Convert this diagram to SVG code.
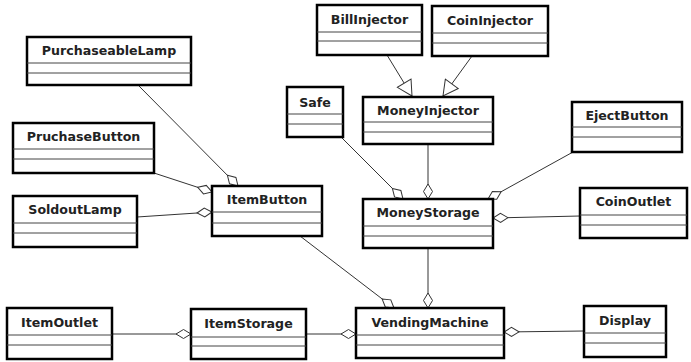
<svg xmlns="http://www.w3.org/2000/svg" width="691" height="362" viewBox="0 0 691 362">
<style>
.box{fill:#fff;stroke:#000;stroke-width:2.5}
.sep{stroke:#444;stroke-width:1}
.lbl{font-family:"DejaVu Sans",sans-serif;font-weight:bold;font-size:12.6px;fill:#222;text-anchor:middle}
.edge{stroke:#333;stroke-width:1;fill:none}
.agg{marker-end:url(#diamond)}
.gen{marker-end:url(#tri)}
</style>
<defs>
<marker id="diamond" markerUnits="userSpaceOnUse" viewBox="0 0 17 11" refX="16" refY="5.5" markerWidth="17" markerHeight="11" orient="auto">
<path d="M1,5.5 L8.5,1 L16,5.5 L8.5,10 Z" fill="#fff" stroke="#333" stroke-width="1"/>
</marker>
<marker id="tri" markerUnits="userSpaceOnUse" viewBox="0 0 17 18" refX="16" refY="9" markerWidth="17" markerHeight="18" orient="auto">
<path d="M1,1 L16,9 L1,17 Z" fill="#fff" stroke="#333" stroke-width="1"/>
</marker>
</defs>
<g id="connectors">
<line class="edge agg" x1="138" y1="85" x2="238" y2="186"/>
<line class="edge agg" x1="154" y1="173" x2="212" y2="192"/>
<line class="edge agg" x1="137" y1="217" x2="212" y2="212"/>
<line class="edge agg" x1="300" y1="236" x2="394" y2="308"/>
<line class="edge agg" x1="341" y1="137" x2="403" y2="199"/>
<line class="edge agg" x1="428" y1="144" x2="428" y2="199"/>
<line class="edge agg" x1="573" y1="152" x2="488" y2="199"/>
<line class="edge agg" x1="580" y1="216" x2="493" y2="218"/>
<line class="edge agg" x1="428" y1="248" x2="428" y2="308"/>
<line class="edge agg" x1="112" y1="334" x2="191" y2="334"/>
<line class="edge agg" x1="306" y1="334" x2="356" y2="334"/>
<line class="edge agg" x1="584" y1="331" x2="504" y2="332"/>
<line class="edge gen" x1="387" y1="55" x2="412" y2="96"/>
<line class="edge gen" x1="472" y1="56" x2="443" y2="96"/>
</g>
<g id="PurchaseableLamp">
<rect class="box" x="27" y="37" width="164" height="48"/>
<line class="sep" x1="27" y1="63" x2="191" y2="63"/><line class="sep" x1="27" y1="73" x2="191" y2="73"/>
<text class="lbl" x="109" y="55">PurchaseableLamp</text>
</g>
<g id="BillInjector">
<rect class="box" x="317" y="5" width="105" height="50"/>
<line class="sep" x1="317" y1="32" x2="422" y2="32"/><line class="sep" x1="317" y1="41" x2="422" y2="41"/>
<text class="lbl" x="369.5" y="24">BillInjector</text>
</g>
<g id="CoinInjector">
<rect class="box" x="432" y="6" width="116" height="50"/>
<line class="sep" x1="432" y1="33" x2="548" y2="33"/><line class="sep" x1="432" y1="43" x2="548" y2="43"/>
<text class="lbl" x="490" y="25">CoinInjector</text>
</g>
<g id="Safe">
<rect class="box" x="287" y="87" width="56" height="50"/>
<line class="sep" x1="287" y1="114" x2="343" y2="114"/><line class="sep" x1="287" y1="124" x2="343" y2="124"/>
<text class="lbl" x="315" y="107">Safe</text>
</g>
<g id="MoneyInjector">
<rect class="box" x="363" y="97" width="130" height="47"/>
<line class="sep" x1="363" y1="122" x2="493" y2="122"/><line class="sep" x1="363" y1="132" x2="493" y2="132"/>
<text class="lbl" x="428" y="115">MoneyInjector</text>
</g>
<g id="EjectButton">
<rect class="box" x="572" y="102" width="110" height="50"/>
<line class="sep" x1="572" y1="127" x2="682" y2="127"/><line class="sep" x1="572" y1="137" x2="682" y2="137"/>
<text class="lbl" x="627" y="120">EjectButton</text>
</g>
<g id="PruchaseButton">
<rect class="box" x="13" y="123" width="141" height="50"/>
<line class="sep" x1="13" y1="149" x2="154" y2="149"/><line class="sep" x1="13" y1="159" x2="154" y2="159"/>
<text class="lbl" x="83.5" y="141">PruchaseButton</text>
</g>
<g id="SoldoutLamp">
<rect class="box" x="13" y="196" width="124" height="51"/>
<line class="sep" x1="13" y1="223" x2="137" y2="223"/><line class="sep" x1="13" y1="233" x2="137" y2="233"/>
<text class="lbl" x="75" y="214">SoldoutLamp</text>
</g>
<g id="ItemButton">
<rect class="box" x="212" y="186" width="110" height="50"/>
<line class="sep" x1="212" y1="212" x2="322" y2="212"/><line class="sep" x1="212" y1="223" x2="322" y2="223"/>
<text class="lbl" x="267" y="204">ItemButton</text>
</g>
<g id="MoneyStorage">
<rect class="box" x="363" y="199" width="130" height="49"/>
<line class="sep" x1="363" y1="226" x2="493" y2="226"/><line class="sep" x1="363" y1="236" x2="493" y2="236"/>
<text class="lbl" x="428" y="217">MoneyStorage</text>
</g>
<g id="CoinOutlet">
<rect class="box" x="580" y="188" width="107" height="50"/>
<line class="sep" x1="580" y1="215" x2="687" y2="215"/><line class="sep" x1="580" y1="225" x2="687" y2="225"/>
<text class="lbl" x="633.5" y="206">CoinOutlet</text>
</g>
<g id="ItemOutlet">
<rect class="box" x="7" y="308" width="105" height="51"/>
<line class="sep" x1="7" y1="335" x2="112" y2="335"/><line class="sep" x1="7" y1="345" x2="112" y2="345"/>
<text class="lbl" x="59.5" y="327">ItemOutlet</text>
</g>
<g id="ItemStorage">
<rect class="box" x="191" y="309" width="115" height="50"/>
<line class="sep" x1="191" y1="337" x2="306" y2="337"/><line class="sep" x1="191" y1="346" x2="306" y2="346"/>
<text class="lbl" x="248.5" y="328">ItemStorage</text>
</g>
<g id="VendingMachine">
<rect class="box" x="356" y="308" width="148" height="50"/>
<line class="sep" x1="356" y1="335" x2="504" y2="335"/><line class="sep" x1="356" y1="345" x2="504" y2="345"/>
<text class="lbl" x="430" y="327">VendingMachine</text>
</g>
<g id="Display">
<rect class="box" x="584" y="306" width="82" height="51"/>
<line class="sep" x1="584" y1="333" x2="666" y2="333"/><line class="sep" x1="584" y1="343" x2="666" y2="343"/>
<text class="lbl" x="625" y="325">Display</text>
</g>
</svg>
